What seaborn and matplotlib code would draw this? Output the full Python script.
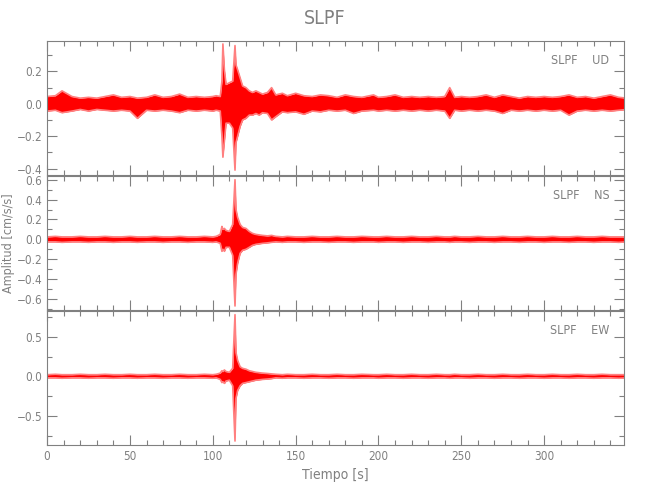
import numpy as np
import pandas as pd
import seaborn as sns
import matplotlib.pyplot as plt
from matplotlib.ticker import MultipleLocator

sns.set_style("ticks")
plt.rcParams["font.family"] = ["DejaVu Sans"]
plt.rcParams["font.stretch"] = "condensed"

GREY = "#808080"

# knot times of the envelope [s]
t = [0, 5, 9, 15, 20, 25, 30, 35, 40, 45,
     50, 54.5, 60, 65, 70, 75, 80, 85, 90, 95,
     100, 102, 104.5, 105.5, 106.1, 107, 108, 110, 112, 113.4,
     114, 115, 116.5, 118, 120, 122, 124, 126, 128, 130,
     133, 135.5, 138, 142, 145, 150, 155, 160, 165, 170,
     175, 180, 185, 190, 197, 200, 205, 210, 215, 220,
     225, 230, 235, 240, 243, 246, 250, 255, 260, 265,
     270, 275, 280, 285, 290, 295, 300, 305, 310, 315,
     320, 325, 330, 335, 340, 345, 350]

# UD component, upper / lower envelope [cm/s/s]
ud_hi = [0.045, 0.05, 0.08, 0.045, 0.035, 0.04, 0.035, 0.045, 0.055, 0.04,
         0.045, 0.035, 0.04, 0.055, 0.04, 0.045, 0.06, 0.04, 0.045, 0.04,
         0.045, 0.05, 0.045, 0.14, 0.37, 0.21, 0.12, 0.13, 0.14, 0.36,
         0.24, 0.21, 0.16, 0.11, 0.10, 0.08, 0.07, 0.08, 0.07, 0.06,
         0.07, 0.10, 0.055, 0.065, 0.05, 0.065, 0.05, 0.045, 0.055, 0.05,
         0.04, 0.055, 0.045, 0.04, 0.055, 0.04, 0.045, 0.055, 0.04, 0.045,
         0.04, 0.045, 0.04, 0.045, 0.10, 0.04, 0.045, 0.04, 0.045, 0.055,
         0.04, 0.055, 0.045, 0.035, 0.045, 0.04, 0.045, 0.04, 0.045, 0.055,
         0.04, 0.045, 0.035, 0.045, 0.055, 0.04, 0.035]
ud_lo = [-0.045, -0.04, -0.055, -0.045, -0.035, -0.045, -0.035, -0.04, -0.045, -0.04,
         -0.045, -0.09, -0.04, -0.045, -0.04, -0.045, -0.055, -0.04, -0.045, -0.04,
         -0.045, -0.04, -0.045, -0.20, -0.33, -0.23, -0.12, -0.12, -0.15, -0.41,
         -0.24, -0.20, -0.14, -0.10, -0.09, -0.07, -0.07, -0.06, -0.07, -0.055,
         -0.06, -0.10, -0.08, -0.05, -0.055, -0.05, -0.065, -0.045, -0.05, -0.04,
         -0.045, -0.04, -0.06, -0.045, -0.04, -0.045, -0.04, -0.045, -0.04, -0.045,
         -0.04, -0.045, -0.04, -0.045, -0.09, -0.04, -0.045, -0.04, -0.045, -0.04,
         -0.045, -0.06, -0.04, -0.045, -0.04, -0.045, -0.04, -0.045, -0.04, -0.07,
         -0.045, -0.04, -0.045, -0.04, -0.045, -0.04, -0.035]

# NS component
ns_hi = [0.025, 0.03, 0.025, 0.025, 0.03, 0.025, 0.025, 0.03, 0.025, 0.025,
         0.03, 0.025, 0.025, 0.03, 0.025, 0.025, 0.03, 0.025, 0.025, 0.03,
         0.025, 0.03, 0.05, 0.13, 0.10, 0.11, 0.09, 0.08, 0.15, 0.60,
         0.30, 0.22, 0.15, 0.12, 0.11, 0.08, 0.06, 0.05, 0.045, 0.04,
         0.035, 0.04, 0.03, 0.025, 0.03, 0.025, 0.025, 0.03, 0.025, 0.025,
         0.03, 0.025, 0.025, 0.03, 0.025, 0.025, 0.03, 0.025, 0.025, 0.03,
         0.025, 0.025, 0.03, 0.025, 0.025, 0.03, 0.025, 0.025, 0.03, 0.025,
         0.025, 0.03, 0.025, 0.025, 0.03, 0.025, 0.025, 0.03, 0.025, 0.025,
         0.03, 0.025, 0.025, 0.03, 0.025, 0.025, 0.025]
ns_lo = [-0.025, -0.025, -0.03, -0.025, -0.025, -0.03, -0.025, -0.025, -0.03, -0.025,
         -0.025, -0.03, -0.025, -0.025, -0.03, -0.025, -0.025, -0.03, -0.025, -0.025,
         -0.03, -0.025, -0.04, -0.12, -0.10, -0.12, -0.08, -0.08, -0.16, -0.67,
         -0.35, -0.24, -0.14, -0.11, -0.10, -0.08, -0.06, -0.05, -0.045, -0.04,
         -0.035, -0.03, -0.025, -0.03, -0.025, -0.025, -0.03, -0.025, -0.025, -0.03,
         -0.025, -0.025, -0.03, -0.025, -0.025, -0.03, -0.025, -0.025, -0.03, -0.025,
         -0.025, -0.03, -0.025, -0.025, -0.03, -0.025, -0.025, -0.03, -0.025, -0.025,
         -0.03, -0.025, -0.025, -0.03, -0.025, -0.025, -0.03, -0.025, -0.025, -0.03,
         -0.025, -0.025, -0.03, -0.025, -0.025, -0.03, -0.025]

# EW component
ew_hi = [0.02, 0.025, 0.02, 0.02, 0.025, 0.02, 0.02, 0.025, 0.02, 0.02,
         0.025, 0.02, 0.02, 0.025, 0.02, 0.02, 0.025, 0.02, 0.02, 0.025,
         0.02, 0.025, 0.04, 0.07, 0.06, 0.08, 0.06, 0.05, 0.10, 0.78,
         0.30, 0.20, 0.12, 0.10, 0.09, 0.07, 0.06, 0.05, 0.045, 0.04,
         0.035, 0.03, 0.025, 0.02, 0.025, 0.02, 0.02, 0.025, 0.02, 0.02,
         0.025, 0.02, 0.02, 0.025, 0.02, 0.02, 0.025, 0.02, 0.02, 0.025,
         0.02, 0.02, 0.025, 0.02, 0.02, 0.025, 0.02, 0.02, 0.025, 0.02,
         0.02, 0.025, 0.02, 0.02, 0.025, 0.02, 0.02, 0.025, 0.02, 0.02,
         0.025, 0.02, 0.02, 0.025, 0.02, 0.02, 0.02]
ew_lo = [-0.02, -0.02, -0.025, -0.02, -0.02, -0.025, -0.02, -0.02, -0.025, -0.02,
         -0.02, -0.025, -0.02, -0.02, -0.025, -0.02, -0.02, -0.025, -0.02, -0.02,
         -0.025, -0.02, -0.04, -0.08, -0.07, -0.09, -0.06, -0.05, -0.12, -0.82,
         -0.28, -0.18, -0.12, -0.09, -0.08, -0.07, -0.06, -0.05, -0.045, -0.04,
         -0.035, -0.03, -0.02, -0.025, -0.02, -0.02, -0.025, -0.02, -0.02, -0.025,
         -0.02, -0.02, -0.025, -0.02, -0.02, -0.025, -0.02, -0.02, -0.025, -0.02,
         -0.02, -0.025, -0.02, -0.02, -0.025, -0.02, -0.02, -0.025, -0.02, -0.02,
         -0.025, -0.02, -0.02, -0.025, -0.02, -0.02, -0.025, -0.02, -0.02, -0.025,
         -0.02, -0.02, -0.025, -0.02, -0.02, -0.025, -0.02]

station = "SLPF"
components = ["UD", "NS", "EW"]
ylims = [(-0.44, 0.39), (-0.71, 0.64), (-0.87, 0.83)]
major_steps = [0.2, 0.2, 0.5]
minor_steps = [0.1, 0.1, 0.25]

traces = {"UD": (ud_hi, ud_lo), "NS": (ns_hi, ns_lo), "EW": (ew_hi, ew_lo)}

fig = plt.figure(figsize=(6.5, 5), dpi=100)
left, width = 0.0725, 0.887
bottoms = [0.65, 0.38, 0.11]
height = 0.2686

axes = []
for i, comp in enumerate(components):
    ax = fig.add_axes([left, bottoms[i], width, height])
    axes.append(ax)
    hi, lo = traces[comp]
    df = pd.DataFrame({"t": t, "hi": hi, "lo": lo})
    ax.fill_between(df["t"], df["lo"], df["hi"], color="#ff0000", lw=0)
    # pinkish fringe like the original trace edges
    sns.lineplot(data=df, x="t", y="hi", ax=ax, color="#ff8080", lw=1.2,
                 estimator=None, sort=False)
    sns.lineplot(data=df, x="t", y="lo", ax=ax, color="#ff8080", lw=1.2,
                 estimator=None, sort=False)

    ax.set_xlim(0, 348)
    ax.set_ylim(*ylims[i])
    ax.xaxis.set_major_locator(MultipleLocator(50))
    ax.xaxis.set_minor_locator(MultipleLocator(10))
    ax.yaxis.set_major_locator(MultipleLocator(major_steps[i]))
    ax.yaxis.set_minor_locator(MultipleLocator(minor_steps[i]))
    ax.tick_params(which="both", direction="in", top=True, right=True,
                   color=GREY, labelcolor=GREY, labelsize=8.5, width=0.8)
    ax.tick_params(which="major", length=7)
    ax.tick_params(which="minor", length=3.5)
    for s in ax.spines.values():
        s.set_color(GREY)
        s.set_linewidth(0.8)
    ax.set_xlabel("")
    ax.set_ylabel("")
    if i < 2:
        ax.tick_params(labelbottom=False)
    ax.text(0.975, 0.85, f"{station}    {comp}", transform=ax.transAxes,
            ha="right", va="center", color=GREY, fontsize=9)

axes[2].set_xlabel("Tiempo [s]", color=GREY, fontsize=10, labelpad=4)
axes[1].set_ylabel("Amplitud [cm/s/s]", color=GREY, fontsize=9)
axes[1].yaxis.set_label_coords(-0.055, 0.5)
fig.text(0.5, 0.962, station, ha="center", va="center", color=GREY, fontsize=14)

fig.savefig("out.png", dpi=100)
